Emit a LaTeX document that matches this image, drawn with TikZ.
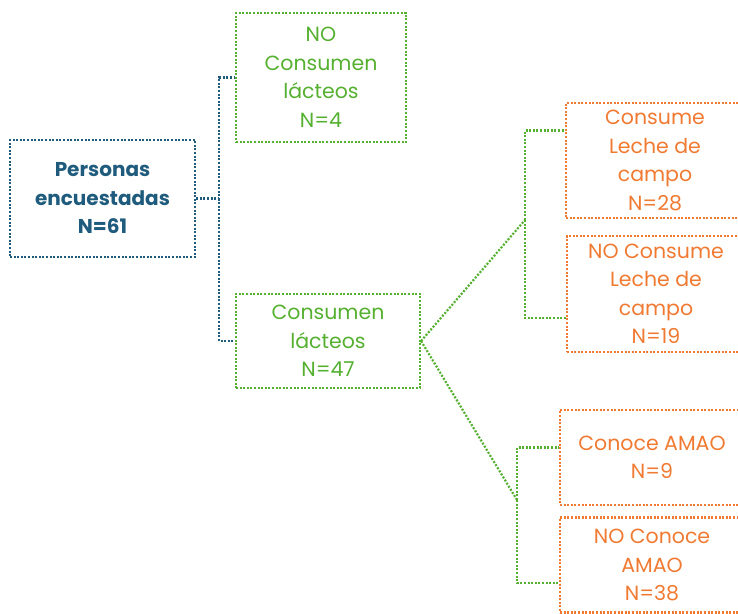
\documentclass[tikz,border=0pt]{standalone}
\usepackage{fontspec}
\setmainfont{Poppins}
\usepackage{tikz}

\definecolor{azul}{HTML}{1F5B7C}
\definecolor{verde}{HTML}{55B030}
\definecolor{naranja}{HTML}{F07A32}

\tikzset{
    caja/.style={draw, dash pattern=on 2pt off 1.6pt, line width=2.2pt, align=center, inner sep=0pt,
        font=\fontsize{20.5}{28.5}\selectfont},
    cajaazul/.style={caja, draw=azul, text=azul, font=\fontsize{20}{28.5}\selectfont\bfseries},
    cajaverde/.style={caja, draw=verde, text=verde},
    cajanaranja/.style={caja, draw=naranja, text=naranja},
    linea/.style={dash pattern=on 2pt off 1.6pt, line width=2.2pt}
}

\begin{document}
\begin{tikzpicture}[x=1pt, y=-1pt]
    \useasboundingbox (0,0) rectangle (738,613);

    % Cajas
    \node[cajaazul, minimum width=185pt, minimum height=117pt] (encuestadas) at (102.5,198.5) {Personas\\encuestadas\\N=61};
    \node[cajaverde, minimum width=170pt, minimum height=129pt] (nolacteos) at (321,77.5) {NO\\Consumen\\lácteos\\N=4};
    \node[cajaverde, minimum width=184pt, minimum height=94pt] (lacteos) at (328,341) {Consumen\\lácteos\\N=47};

    \node[cajanaranja, minimum width=178pt, minimum height=115pt] (leche) at (655,160.5) {Consume\\Leche de\\campo\\N=28};
    \node[cajanaranja, minimum width=178pt, minimum height=116pt] (noleche) at (656,294) {NO Consume\\Leche de\\campo\\N=19};
    \node[cajanaranja, minimum width=184pt, minimum height=95pt] (amao) at (652,457.5) {Conoce AMAO\\N=9};
    \node[cajanaranja, minimum width=184pt, minimum height=95pt] (noamao) at (652,565) {NO Conoce\\AMAO\\N=38};

    % Conectores
    \draw[linea, azul] (encuestadas.east) -- ++(23,0) coordinate (ramaA) |- (nolacteos.west);
    \draw[linea, azul] (ramaA) |- (lacteos.west);

    \coordinate (ramaB) at (525,220);
    \coordinate (ramaC) at (517,500);
    \draw[linea, verde] (lacteos.east) -- (ramaB);
    \draw[linea, verde] (ramaB) |- ([yshift=30pt]leche.west);
    \draw[linea, verde] (ramaB) |- ([yshift=-24pt]noleche.west);
    \draw[linea, verde] (lacteos.east) -- (ramaC);
    \draw[linea, verde] (ramaC) |- ([yshift=10pt]amao.west);
    \draw[linea, verde] (ramaC) |- ([yshift=-18pt]noamao.west);
\end{tikzpicture}
\end{document}
